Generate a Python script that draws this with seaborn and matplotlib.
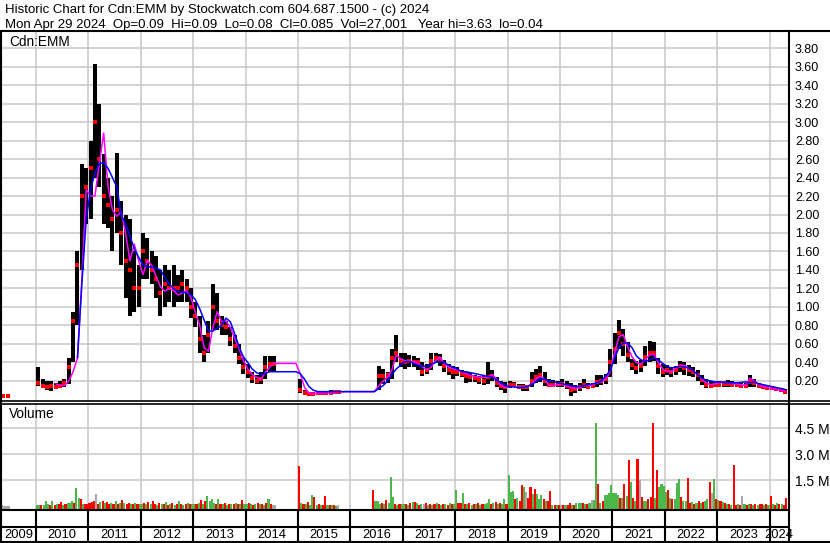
import numpy as np
import pandas as pd
import matplotlib
matplotlib.use("Agg")
import matplotlib.pyplot as plt
from matplotlib.lines import Line2D
import seaborn as sns

nan = np.nan

# ---------------- data (monthly, May 2009 .. Apr 2024) ----------------
first_year, first_month = 2009, 5

high = [0.045, 0.045, nan, nan, nan, nan, nan, nan,
        0.35, 0.22, 0.2, 0.2, 0.18, 0.2, 0.22, 0.45, 0.95, 1.6, 2.55, 2.5,
        2.8, 3.63, 3.2, 2.65, 2.4, 2.2, 2.66, 2.15, 2.0, 1.95, 1.6, 1.45,
        1.8, 1.75, 1.6, 1.55, 1.4, 1.45, 1.4, 1.45, 1.35, 1.4, 1.3, 1.2,
        1.05, 0.9, 0.7, 0.85, 1.25, 1.15, 0.9, 0.85, 0.78, 0.7, 0.6, 0.45,
        0.38, 0.3, 0.27, 0.3, 0.47, 0.47, 0.47, nan, nan, nan, nan, nan,
        0.22, 0.1, 0.08, 0.08, 0.09, 0.09, 0.09, 0.1, 0.1, 0.09, nan, nan,
        nan, nan, nan, nan, nan, nan, 0.36, 0.33, 0.3, 0.55, 0.7, 0.5,
        0.5, 0.48, 0.47, 0.45, 0.4, 0.38, 0.5, 0.5, 0.49, 0.43, 0.38, 0.36,
        0.35, 0.32, 0.3, 0.29, 0.27, 0.25, 0.25, 0.4, 0.32, 0.24, 0.2, 0.19,
        0.2, 0.19, 0.17, 0.17, 0.16, 0.3, 0.33, 0.36, 0.3, 0.22, 0.21, 0.2,
        0.22, 0.2, 0.18, 0.16, 0.18, 0.22, 0.18, 0.18, 0.27, 0.26, 0.28, 0.55,
        0.72, 0.86, 0.76, 0.62, 0.44, 0.42, 0.43, 0.58, 0.63, 0.62, 0.45, 0.38,
        0.37, 0.35, 0.36, 0.42, 0.4, 0.37, 0.35, 0.32, 0.27, 0.22, 0.2, 0.19,
        0.2, 0.2, 0.21, 0.2, 0.19, 0.18, 0.18, 0.26, 0.22, 0.18, 0.16, 0.15,
        0.14, 0.13, 0.12, 0.11]

low = [0.04, 0.04, nan, nan, nan, nan, nan, nan,
       0.15, 0.12, 0.1, 0.09, 0.12, 0.12, 0.14, 0.17, 0.4, 0.8, 1.4, 1.9,
       1.95, 2.4, 2.3, 1.9, 1.85, 1.6, 1.8, 1.45, 1.1, 0.9, 0.95, 1.0,
       1.3, 1.3, 1.25, 1.1, 0.9, 1.0, 1.05, 1.0, 1.05, 1.05, 1.05, 0.88,
       0.78, 0.5, 0.4, 0.5, 0.75, 0.75, 0.7, 0.7, 0.58, 0.5, 0.38, 0.28,
       0.23, 0.18, 0.17, 0.17, 0.22, 0.3, 0.3, nan, nan, nan, nan, nan,
       0.07, 0.05, 0.04, 0.04, 0.05, 0.05, 0.05, 0.05, 0.06, 0.06, nan, nan,
       nan, nan, nan, nan, nan, nan, 0.1, 0.17, 0.18, 0.22, 0.4, 0.35,
       0.33, 0.35, 0.35, 0.32, 0.25, 0.28, 0.32, 0.4, 0.36, 0.3, 0.27, 0.22,
       0.25, 0.24, 0.18, 0.19, 0.19, 0.17, 0.16, 0.17, 0.2, 0.14, 0.1, 0.07,
       0.12, 0.13, 0.11, 0.09, 0.09, 0.14, 0.18, 0.19, 0.15, 0.13, 0.13, 0.14,
       0.13, 0.11, 0.04, 0.07, 0.09, 0.12, 0.11, 0.12, 0.13, 0.16, 0.17, 0.24,
       0.38, 0.55, 0.47, 0.4, 0.32, 0.28, 0.3, 0.36, 0.4, 0.42, 0.28, 0.24,
       0.27, 0.24, 0.27, 0.3, 0.27, 0.25, 0.24, 0.2, 0.16, 0.12, 0.12, 0.13,
       0.13, 0.14, 0.14, 0.13, 0.14, 0.13, 0.12, 0.14, 0.14, 0.12, 0.11, 0.1,
       0.1, 0.09, 0.08, 0.07]

close = [0.04, 0.04, nan, nan, nan, nan, nan, nan,
         0.18, 0.15, 0.14, 0.15, 0.14, 0.15, 0.18, 0.35, 0.85, 1.45, 2.2, 2.3,
         2.5, 3.0, 2.6, 2.2, 2.1, 1.95, 2.05, 1.8, 1.5, 1.4, 1.2, 1.2,
         1.6, 1.5, 1.4, 1.3, 1.15, 1.25, 1.2, 1.2, 1.2, 1.25, 1.2, 1.0,
         0.9, 0.65, 0.5, 0.7, 1.0, 0.85, 0.8, 0.78, 0.65, 0.58, 0.45, 0.35,
         0.3, 0.23, 0.2, 0.22, 0.35, 0.38, 0.38, nan, nan, nan, nan, nan,
         0.1, 0.07, 0.06, 0.06, 0.07, 0.07, 0.07, 0.07, 0.08, 0.08, nan, nan,
         nan, nan, nan, nan, nan, nan, 0.25, 0.25, 0.26, 0.45, 0.5, 0.42,
         0.4, 0.42, 0.41, 0.4, 0.3, 0.32, 0.42, 0.45, 0.44, 0.36, 0.32, 0.3,
         0.3, 0.28, 0.25, 0.24, 0.23, 0.21, 0.2, 0.24, 0.25, 0.18, 0.15, 0.13,
         0.16, 0.16, 0.14, 0.13, 0.13, 0.2, 0.24, 0.26, 0.2, 0.16, 0.16, 0.17,
         0.17, 0.15, 0.1, 0.11, 0.13, 0.16, 0.14, 0.15, 0.19, 0.2, 0.22, 0.4,
         0.55, 0.72, 0.6, 0.48, 0.37, 0.34, 0.36, 0.46, 0.5, 0.5, 0.36, 0.3,
         0.32, 0.3, 0.32, 0.36, 0.34, 0.32, 0.3, 0.26, 0.21, 0.16, 0.15, 0.16,
         0.16, 0.17, 0.17, 0.16, 0.16, 0.15, 0.15, 0.19, 0.18, 0.15, 0.13, 0.12,
         0.12, 0.11, 0.1, 0.085]

ma_fast = [nan, nan, nan, nan, nan, nan, nan, nan,
           nan, nan, nan, nan, 0.17, 0.15, 0.15, 0.2, 0.3, 0.45, 1.3, 2.27,
           2.2, 2.2, 2.55, 2.88, 2.3, 2.05, 1.98, 2.03, 1.8, 1.5, 1.68, 1.5,
           1.35, 1.5, 1.45, 1.33, 1.22, 1.17, 1.2, 1.18, 1.13, 1.15, 1.18, 1.1,
           0.94, 0.8, 0.56, 0.52, 0.78, 0.95, 0.84, 0.85, 0.78, 0.66, 0.55, 0.42,
           0.33, 0.27, 0.24, 0.22, 0.29, 0.35, 0.39, 0.39, 0.39, 0.39, 0.39, 0.39,
           0.28, 0.13, 0.07, 0.06, 0.07, 0.07, 0.07, 0.07, 0.075, 0.08, 0.085, 0.085,
           0.085, 0.085, 0.085, 0.085, 0.085, 0.085, 0.15, 0.2, 0.24, 0.32, 0.48, 0.44,
           0.42, 0.41, 0.41, 0.39, 0.35, 0.32, 0.35, 0.42, 0.46, 0.39, 0.35, 0.33,
           0.32, 0.3, 0.28, 0.26, 0.25, 0.24, 0.24, 0.24, 0.27, 0.22, 0.15, 0.13,
           0.14, 0.14, 0.13, 0.13, 0.14, 0.17, 0.22, 0.25, 0.22, 0.15, 0.15, 0.16,
           0.17, 0.15, 0.13, 0.12, 0.13, 0.15, 0.15, 0.16, 0.18, 0.19, 0.22, 0.3,
           0.5, 0.68, 0.7, 0.57, 0.46, 0.4, 0.38, 0.43, 0.48, 0.49, 0.4, 0.33,
           0.3, 0.3, 0.34, 0.37, 0.37, 0.34, 0.31, 0.27, 0.22, 0.18, 0.16, 0.17,
           0.18, 0.19, 0.18, 0.17, 0.17, 0.16, 0.15, 0.23, 0.2, 0.16, 0.14, 0.13,
           0.12, 0.11, 0.1, 0.09]

ma_slow = [nan, nan, nan, nan, nan, nan, nan, nan,
           nan, nan, nan, nan, nan, nan, nan, nan, nan, 0.45, 1.25, 1.95,
           2.27, 2.45, 2.55, 2.56, 2.5, 2.4, 2.3, 2.0, 1.9, 1.77, 1.63, 1.54,
           1.45, 1.44, 1.43, 1.42, 1.4, 1.32, 1.25, 1.2, 1.17, 1.16, 1.15, 1.13,
           1.08, 0.98, 0.86, 0.74, 0.74, 0.77, 0.8, 0.88, 0.84, 0.71, 0.57, 0.46,
           0.4, 0.33, 0.29, 0.27, 0.28, 0.3, 0.3, 0.3, 0.3, 0.3, 0.3, 0.3,
           0.28, 0.22, 0.14, 0.1, 0.085, 0.085, 0.085, 0.085, 0.085, 0.085, 0.085, 0.085,
           0.085, 0.085, 0.085, 0.085, 0.085, 0.085, 0.12, 0.15, 0.2, 0.27, 0.33, 0.37,
           0.41, 0.41, 0.39, 0.37, 0.36, 0.36, 0.38, 0.4, 0.41, 0.4, 0.37, 0.35,
           0.33, 0.3, 0.3, 0.29, 0.28, 0.27, 0.26, 0.25, 0.24, 0.21, 0.18, 0.15,
           0.14, 0.135, 0.13, 0.13, 0.14, 0.16, 0.19, 0.22, 0.22, 0.2, 0.19, 0.18,
           0.17, 0.16, 0.15, 0.14, 0.14, 0.15, 0.16, 0.17, 0.18, 0.2, 0.26, 0.31,
           0.45, 0.56, 0.61, 0.61, 0.56, 0.47, 0.43, 0.41, 0.43, 0.45, 0.43, 0.39,
           0.36, 0.34, 0.35, 0.36, 0.35, 0.34, 0.31, 0.27, 0.23, 0.21, 0.2, 0.19,
           0.19, 0.185, 0.18, 0.18, 0.18, 0.185, 0.19, 0.18, 0.19, 0.17, 0.16, 0.15,
           0.14, 0.13, 0.12, 0.11]

# volume, half-monthly, millions of shares (24 values per year)
vol_years = list(range(2009, 2025))
volume = [
    [0, 0, 0, 0, 0, 0, 0, 0, 0.05, 0.04, 0.03, 0.04, 0, 0, 0, 0, 0, 0, 0, 0, 0, 0, 0, 0],
    [0.08, 0.05, 0.06, 0.1, 0.3, 0.12, 0.08, 0.3, 0.1, 0.15, 0.12, 0.25, 0.1, 0.15, 0.2, 0.18, 0.3, 0.2, 1.07, 0.5, 0.45, 0.15, 0.12, 0.12],
    [0.2, 0.25, 0.3, 0.7, 0.15, 0.25, 0.3, 0.2, 0.25, 0.15, 0.2, 0.15, 0.3, 0.15, 0.2, 0.35, 0.2, 0.15, 0.2, 0.15, 0.12, 0.2, 0.15, 0.15],
    [0.15, 0.2, 0.12, 0.25, 0.15, 0.3, 0.12, 0.1, 0.2, 0.15, 0.12, 0.25, 0.1, 0.15, 0.2, 0.1, 0.15, 0.3, 0.12, 0.1, 0.15, 0.2, 0.15, 0.12],
    [0.15, 0.12, 0.2, 0.36, 0.15, 0.3, 0.6, 0.3, 0.45, 0.2, 0.15, 0.4, 0.15, 0.12, 0.2, 0.1, 0.15, 0.12, 0.15, 0.2, 0.12, 0.15, 0.36, 0.15],
    [0.15, 0.2, 0.12, 0.1, 0.15, 0.2, 0.12, 0.15, 0.1, 0.2, 0.45, 0.15, 0.1, 0.1, 0, 0, 0, 0, 0, 0, 0, 0, 0, 0],
    [2.33, 0.2, 0.15, 0.15, 0.25, 0.1, 0.65, 0.55, 0.1, 0.12, 0.1, 0.08, 0.6, 0.1, 0.05, 0.05, 0.06, 0.04, 0.05, 0, 0, 0, 0, 0],
    [0, 0, 0, 0, 0, 0, 0, 0, 0, 0, 0.93, 0.3, 0.3, 0.15, 0.2, 0.15, 0.36, 0.2, 1.67, 0.55, 0.15, 0.1, 0.15, 0.12],
    [0.12, 0.15, 0.1, 0.2, 0.25, 0.25, 0.2, 0.1, 0.15, 0.12, 0.2, 0.1, 0.15, 0.1, 0.12, 0.2, 0.15, 0.1, 0.12, 0.15, 0.1, 0.2, 0.12, 0.15],
    [0.93, 0.2, 0.2, 0.75, 0.15, 0.12, 0.2, 0.1, 0.15, 0.12, 0.2, 0.1, 0.15, 0.12, 0.2, 0.4, 0.15, 0.2, 0.25, 0.12, 0.2, 0.15, 0.4, 0.15],
    [1.8, 0.85, 0.9, 0.45, 0.5, 0.3, 1.25, 1.1, 0.8, 0.5, 1.1, 0.7, 1.0, 0.7, 0.4, 0.65, 0.4, 0.3, 0.3, 0.9, 0.1, 0.08, 0.05, 0.08],
    [0.05, 0.08, 0.05, 0.1, 0.2, 0.1, 0.1, 0.2, 0.2, 0.2, 0.2, 0.15, 0.15, 0.2, 0.35, 0.35, 4.82, 1.3, 0.2, 0.3, 0.65, 0.65, 0.75, 1.25],
    [0.75, 0.75, 0.65, 0.5, 0.5, 1.3, 0.6, 2.67, 1.4, 0.5, 0.3, 2.73, 1.5, 0.55, 0.3, 0.3, 0.4, 0.55, 4.82, 0.5, 2.09, 1.13, 1.3, 1.2],
    [0.8, 0.93, 0.5, 0.45, 0.4, 1.35, 1.57, 0.55, 0.3, 0.3, 1.62, 0.2, 0.25, 0.15, 0.2, 0.3, 0.2, 0.25, 0.3, 0.4, 1.42, 0.75, 1.55, 0.4],
    [0.35, 0.3, 0.25, 0.2, 0.15, 0.15, 0.1, 2.4, 0.1, 0.12, 0.1, 0.6, 0.15, 0.1, 0.12, 0.15, 0.1, 0.12, 0.1, 0.15, 0.12, 0.1, 0.15, 0.1],
    [0.6, 0.15, 0.1, 0.2, 0.12, 0.15, 0.1, 0.5],
]
# g = up (green), r = down (red), n = unchanged (grey)
vol_color = [
    "nnnnnnnnnnnnnnnnnnnnnnnn",
    "ggrgggrgrgrrgrgggrggrgrr",
    "rrrnrgrgrrgrgrgrgrrgrgrg",
    "grgrgrrgrgrgrgrgrgrgrgrg",
    "grgrgrggggrgrgrgrgrgrgrg",
    "grgrgrgrgrgrnnnnnnnnnnnn",
    "rgrgrggrgrgrrgrgrgnnnnnn",
    "nnnnnnnnnnrgggrgrgggrgrg",
    "grgrgrgrgnrgrgrgrgrgrgrg",
    "grrgrgrgrgrgrgggrgrgrggr",
    "gggrgrrgnrrgrgggrgrrgrgr",
    "nrgrrgrgggrgrgnggrgrgggg",
    "gggrgrgrgrgrnrggrrrgrggg",
    "grgrgggrggrrgrgrgrggrngr",
    "grgrgrgrrgrngrgrgrgrrgrg",
    "rgrgrgrr",
]

price_ticks = [0.2, 0.4, 0.6, 0.8, 1.0, 1.2, 1.4, 1.6, 1.8, 2.0, 2.2, 2.4, 2.6, 2.8,
               3.0, 3.2, 3.4, 3.6, 3.8]
vol_ticks = [1.5, 3.0, 4.5]
vol_tick_labels = ["1.5 M", "3.0 M", "4.5 M"]
year_labels = list(range(2009, 2025))

title_1 = "Historic Chart for Cdn:EMM by Stockwatch.com 604.687.1500 - (c) 2024"
title_2 = ("Mon Apr 29 2024  Op=0.09  Hi=0.09  Lo=0.08  Cl=0.085  Vol=27,001   "
           "Year hi=3.63  lo=0.04")

# ---------------- build tables ----------------
n = len(close)
xm = [first_year + (first_month - 1 + i + 0.5) / 12.0 for i in range(n)]
price_df = pd.DataFrame({"t": xm, "high": high, "low": low, "close": close,
                         "ma_fast": ma_fast, "ma_slow": ma_slow})

rows = []
for yr, vals, cols in zip(vol_years, volume, vol_color):
    for i, (v, c) in enumerate(zip(vals, cols)):
        rows.append({"t": yr + (i + 0.5) / 24.0, "vol": v, "dir": c})
vol_df = pd.DataFrame(rows)

# ---------------- style ----------------
sns.set_theme(style="white")
plt.rcParams["font.family"] = ["Liberation Sans", "DejaVu Sans"]
plt.rcParams["text.color"] = "black"

W, H = 830, 543
fig = plt.figure(figsize=(W / 100, H / 100), dpi=100)
fig.patch.set_facecolor("white")


def fx(px):
    return px / W


def fy(py):
    return 1 - py / H


def axes_px(x0, y0, x1, y1):
    return fig.add_axes([fx(x0), fy(y1), fx(x1) - fx(x0), fy(y0) - fy(y1)])


XL, XR = 2009.332, 2024.351
grid_c = "#c8c8c8"
years_b = list(range(2010, 2025))

# ---------------- price panel ----------------
ax_p = axes_px(1, 31, 788, 400.5)
ax_p.set_xlim(XL, XR)
ax_p.set_ylim(-0.011, 3.984)
for s in ax_p.spines.values():
    s.set_visible(False)
ax_p.set_xticks(years_b)
ax_p.set_yticks(price_ticks)
ax_p.set_yticklabels([f"{v:.2f}" for v in price_ticks])
ax_p.yaxis.tick_right()
ax_p.tick_params(axis="y", length=0, pad=5, labelsize=9, labelcolor="black")
ax_p.tick_params(axis="x", length=0, labelbottom=False)
ax_p.grid(True, color=grid_c, lw=1.1)
ax_p.set_axisbelow(True)

ax_p.vlines(price_df["t"], price_df["low"], price_df["high"], colors="black",
            lw=2.9, zorder=3)
ax_p.scatter(price_df["t"], price_df["close"], marker="s", s=5, color="red",
             lw=0, zorder=4)
sns.lineplot(data=price_df, x="t", y="ma_fast", ax=ax_p, color="#ff00ff",
             lw=1.1, estimator=None, sort=False, zorder=5)
sns.lineplot(data=price_df, x="t", y="ma_slow", ax=ax_p, color="#0000ff",
             lw=1.1, estimator=None, sort=False, zorder=6)
ax_p.set_xlabel("")
ax_p.set_ylabel("")
fig.text(fx(9), fy(45.7), "Cdn:EMM", fontsize=9.8, va="baseline", ha="left")

# ---------------- volume panel ----------------
ax_v = axes_px(1, 403.5, 788, 510)
ax_v.set_xlim(XL, XR)
VB = -0.213
ax_v.set_ylim(VB, 5.93)
for s in ax_v.spines.values():
    s.set_visible(False)
ax_v.set_xticks(years_b)
ax_v.set_yticks(vol_ticks)
ax_v.set_yticklabels(vol_tick_labels)
ax_v.yaxis.tick_right()
ax_v.tick_params(axis="y", length=0, pad=5, labelsize=10, labelcolor="black")
ax_v.tick_params(axis="x", length=0, labelbottom=False)
ax_v.grid(True, color=grid_c, lw=1.1)
ax_v.set_axisbelow(True)
cmap = {"g": "#4cb84c", "r": "#ff0000", "n": "#a8a8a8"}
vd = vol_df[vol_df["vol"] > 0]
ax_v.bar(vd["t"], vd["vol"] - VB, bottom=VB, width=0.95 / 24,
         color=[cmap[c] for c in vd["dir"]], lw=0, zorder=3)
fig.text(fx(9), fy(417.7), "Volume", fontsize=9.8, va="baseline", ha="left")

# ---------------- year band ----------------
ax_y = axes_px(1, 510, 788, 542)
ax_y.set_xlim(XL, XR)
ax_y.set_ylim(542, 510)
for s in ax_y.spines.values():
    s.set_visible(False)
ax_y.set_xticks([])
ax_y.set_yticks([])
ax_y.vlines(years_b, 510, 542, colors="black", lw=1.5)
edges = [XL] + years_b + [XR]
for yl, a, b in zip(year_labels, edges[:-1], edges[1:]):
    ax_y.text((a + b) / 2, 534.5, str(yl), ha="center", va="center",
              fontsize=9.3)

# ---------------- frame lines ----------------
def hline(py, x0, x1, lw=1.5):
    fig.add_artist(Line2D([fx(x0), fx(x1)], [fy(py), fy(py)], color="black",
                          lw=lw, transform=fig.transFigure))


def vline(px, y0, y1, lw=1.5):
    fig.add_artist(Line2D([fx(px), fx(px)], [fy(y0), fy(y1)], color="black",
                          lw=lw, transform=fig.transFigure))


hline(31, 0, 830)
hline(400.5, 0, 830, lw=1.2)
hline(403.5, 0, 830, lw=1.2)
hline(510, 0, 789)
hline(526.5, 0, 789)
hline(542, 0, 830)
vline(0.8, 31, 543)
vline(788.5, 31, 543)

# ---------------- header ----------------
fig.text(fx(5), fy(13.3), title_1, fontsize=9.5, va="baseline", ha="left")
fig.text(fx(5), fy(28.3), title_2, fontsize=9.5, va="baseline", ha="left")

fig.savefig("out.png", dpi=100, facecolor="white")
